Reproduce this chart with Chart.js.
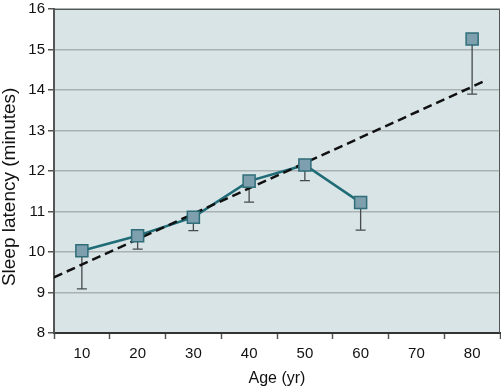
<!DOCTYPE html>
<html>
<head>
<meta charset="utf-8">
<script src="https://cdn.jsdelivr.net/npm/chart.js@4.4.0/dist/chart.umd.min.js"></script>
<style>
  html, body { margin: 0; padding: 0; background: #fff; }
  #wrap { width: 501px; height: 387px; }
</style>
</head>
<body>
<div id="wrap"><canvas id="chart" width="501" height="387"></canvas></div>
<script>
// values
const ages = ['10', '20', '30', '40', '50', '60', '70', '80'];
const latency = [10.03, 10.40, 10.86, 11.75, 12.15, 11.22, null, 15.26];
const lowerBound = [9.09, 10.07, 10.53, 11.23, 11.76, 10.54, null, 13.90];
const trendAges = [5, 82.7];
const trendValues = [9.375, 14.25];
const yTicks = [8, 9, 10, 11, 12, 13, 14, 15, 16];

const trendPoints = trendAges.map((a, i) => ({ x: a, y: trendValues[i] }));

// plot background + top/right frame
const plotBox = {
  id: 'plotBox',
  beforeDraw(chart) {
    const { ctx, chartArea: a } = chart;
    ctx.save();
    ctx.fillStyle = '#d9e4e7';
    ctx.fillRect(a.left, a.top, a.right - a.left, a.bottom - a.top);
    ctx.restore();
  },
  afterDraw(chart) {
    const { ctx, chartArea: a } = chart;
    ctx.save();
    ctx.strokeStyle = '#555';
    ctx.lineWidth = 1;
    ctx.beginPath();
    ctx.moveTo(a.left, a.top + 0.5);
    ctx.lineTo(a.right - 0.5, a.top + 0.5);
    ctx.lineTo(a.right - 0.5, a.bottom);
    ctx.stroke();
    ctx.restore();
  }
};

// one-sided error bars (down only)
const errorBars = {
  id: 'errorBars',
  beforeDatasetsDraw(chart) {
    const { ctx, scales } = chart;
    ctx.save();
    ctx.strokeStyle = '#454a4c';
    ctx.lineWidth = 1.3;
    ages.forEach((age, i) => {
      if (latency[i] == null) return;
      const x = scales.x.getPixelForValue(i);
      const y1 = scales.y.getPixelForValue(latency[i]);
      const y2 = scales.y.getPixelForValue(lowerBound[i]);
      ctx.beginPath();
      ctx.moveTo(x, y1);
      ctx.lineTo(x, y2);
      ctx.moveTo(x - 5, y2);
      ctx.lineTo(x + 5, y2);
      ctx.stroke();
    });
    ctx.restore();
  }
};

new Chart(document.getElementById('chart'), {
  type: 'line',
  data: {
    labels: ages,
    datasets: [
      {
        label: 'mean',
        data: latency,
        borderColor: '#1f6c77',
        borderWidth: 2.5,
        pointRadius: 0,
        spanGaps: false,
        order: 3
      },
      {
        label: 'trend',
        data: trendPoints,
        xAxisID: 'x2',
        borderColor: '#111',
        borderWidth: 2.5,
        borderDash: [9, 5],
        pointRadius: 0,
        order: 2
      },
      {
        label: 'points',
        data: latency,
        showLine: false,
        pointStyle: 'rect',
        pointRadius: 8.5,
        pointBackgroundColor: '#7e9fad',
        pointBorderColor: '#2f6e79',
        pointBorderWidth: 1.5,
        order: 1
      }
    ]
  },
  options: {
    responsive: false,
    animation: false,
    layout: { autoPadding: false, padding: { top: 9, right: 1 } },
    plugins: {
      legend: { display: false },
      tooltip: { enabled: false }
    },
    scales: {
      x: {
        type: 'category',
        offset: true,
        grid: {
          offset: true,
          drawOnChartArea: false,
          drawTicks: true,
          tickLength: 6,
          tickColor: '#555',
          tickWidth: 1.5
        },
        border: { color: '#333', width: 2 },
        ticks: {
          color: '#111',
          font: { family: 'Liberation Sans', size: 15 },
          padding: 6,
          maxRotation: 0
        },
        title: {
          display: true,
          text: 'Age (yr)',
          color: '#111',
          font: { family: 'Liberation Sans', size: 16, lineHeight: 1 },
          padding: 0
        },
        afterFit(scale) {
          scale.height = 54;
          scale.paddingLeft = 0;
          scale.paddingRight = 0;
        }
      },
      x2: {
        type: 'linear',
        display: false,
        min: 5,
        max: 85
      },
      y: {
        min: 8,
        max: 16,
        afterBuildTicks(scale) { scale.ticks = yTicks.map(v => ({ value: v })); },
        grid: {
          color: '#a9b1b3',
          lineWidth: 1.5,
          tickLength: 6,
          tickColor: '#555'
        },
        border: { color: '#555', width: 2 },
        ticks: {
          color: '#111',
          font: { family: 'Liberation Sans', size: 15 },
          padding: 3
        },
        title: {
          display: true,
          // trailing spaces push the label a bit lower, like the original
          text: 'Sleep latency (minutes)      ',
          color: '#111',
          font: { family: 'Liberation Sans', size: 19, lineHeight: 1.05 },
          padding: 0
        },
        afterFit(scale) {
          scale.width = 54;
          scale.paddingTop = 0;
          scale.paddingBottom = 0;
        }
      }
    }
  },
  plugins: [plotBox, errorBars]
});
</script>
</body>
</html>
